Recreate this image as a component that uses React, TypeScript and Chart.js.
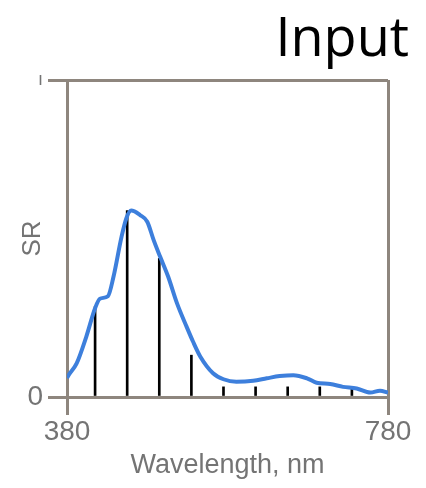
import React, { useEffect, useRef } from "react";
import { Chart, registerables } from "chart.js";

Chart.register(...registerables);

// Spectral response curve (wavelength in nm, relative SR)
const wavelengths = [380, 382, 392, 404, 415, 421, 431, 438, 448, 454, 460, 471, 480, 488, 496, 506, 517, 529, 537, 546, 562, 575, 591, 612, 629, 645, 662, 679, 691, 708, 724, 741, 758, 770, 780];
const srValues = [0.06, 0.069, 0.106, 0.19, 0.28, 0.31, 0.318, 0.38, 0.506, 0.564, 0.588, 0.574, 0.553, 0.495, 0.443, 0.38, 0.296, 0.222, 0.175, 0.128, 0.075, 0.056, 0.048, 0.051, 0.059, 0.066, 0.069, 0.059, 0.045, 0.041, 0.032, 0.027, 0.014, 0.02, 0.014];

// Sampling lines every 40 nm
const sampleWavelengths = [415, 455, 495, 535, 575, 615, 655, 695, 735];
const sampleValues = [0.285, 0.588, 0.437, 0.132, 0.032, 0.032, 0.032, 0.032, 0.032];

// Axis ticks
const xTicks = [380, 780];
const yTicks = [0, 1];
const yTickLabels = ["0", "ı"];

const AXIS_COLOR = "#8e867e";
const TEXT_COLOR = "#747474";
const FONT = "'Liberation Sans', Arial, sans-serif";

export default function App() {
  const canvasRef = useRef<HTMLCanvasElement | null>(null);

  useEffect(() => {
    if (!canvasRef.current) return;
    const chart = new Chart(canvasRef.current, {
      type: "line",
      data: {
        datasets: [
          {
            type: "line",
            data: wavelengths.map((w, i) => ({ x: w, y: srValues[i] })),
            borderColor: "#3d7fdc",
            borderWidth: 4,
            pointRadius: 0,
            cubicInterpolationMode: "monotone",
            fill: false,
            order: 0,
          },
          {
            type: "bar",
            data: sampleWavelengths.map((w, i) => ({ x: w, y: sampleValues[i] })),
            backgroundColor: "#000000",
            barThickness: 2,
            order: 1,
          } as any,
        ],
      },
      options: {
        responsive: false,
        animation: false,
        layout: { padding: { top: 0, right: 9, bottom: 0, left: 0 } },
        plugins: {
          legend: { display: false },
          tooltip: { enabled: false },
          title: {
            display: true,
            text: "Input",
            align: "end",
            color: "#000000",
            font: { family: "'Open Sans', sans-serif", size: 54, weight: "normal", lineHeight: 1.1 },
            padding: { top: 3, bottom: 9.6 },
          },
        },
        scales: {
          x: {
            type: "linear",
            min: 380,
            max: 780,
            offset: false,
            afterBuildTicks: (scale: any) => {
              scale.ticks = xTicks.map((v) => ({ value: v }));
            },
            afterFit: (scale: any) => {
              scale.height = 83;
            },
            ticks: {
              color: TEXT_COLOR,
              font: { family: FONT, size: 28 },
              padding: 0,
              maxRotation: 0,
              autoSkip: false,
              callback: (v: any) => String(v),
            },
            grid: {
              color: AXIS_COLOR,
              lineWidth: 3,
              tickLength: 18,
              drawOnChartArea: true,
              offset: false,
            },
            border: { color: AXIS_COLOR, width: 3 },
            title: {
              display: true,
              text: "Wavelength, nm",
              color: TEXT_COLOR,
              font: { family: FONT, size: 27, lineHeight: 1.1 },
              padding: { top: 0, bottom: 0 },
            },
          },
          y: {
            type: "linear",
            min: 0,
            max: 1,
            afterBuildTicks: (scale: any) => {
              scale.ticks = yTicks.map((v) => ({ value: v }));
            },
            afterFit: (scale: any) => {
              scale.width = 59;
            },
            ticks: {
              color: TEXT_COLOR,
              font: (ctx: any) =>
                ctx.tick && ctx.tick.value === 1 ? { family: FONT, size: 18 } : { family: FONT, size: 28 },
              padding: 5,
              autoSkip: false,
              callback: (v: any) => yTickLabels[yTicks.indexOf(Number(v))] ?? "",
            },
            grid: {
              color: AXIS_COLOR,
              lineWidth: 3,
              tickLength: 19,
              drawOnChartArea: true,
            },
            border: { color: AXIS_COLOR, width: 3 },
            title: {
              display: true,
              text: "SR",
              color: TEXT_COLOR,
              font: { family: FONT, size: 26, lineHeight: 1.2 },
              padding: { top: 9, bottom: 0 },
            },
          },
          yR: {
            type: "linear",
            position: "right",
            display: true,
            ticks: { display: false },
            grid: { display: false },
            border: { display: false },
            afterFit: (scale: any) => {
              scale.width = 21;
            },
          },
        },
      },
    });
    return () => chart.destroy();
  }, []);

  return <canvas ref={canvasRef} width={410} height={472} style={{ display: "block" }} />;
}
